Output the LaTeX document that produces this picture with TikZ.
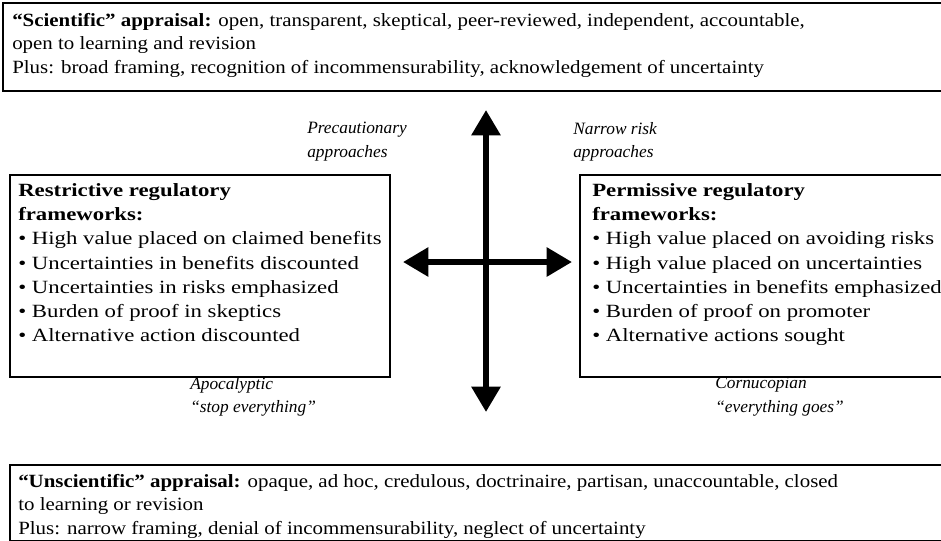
\documentclass[tikz,border=0pt]{standalone}
\usepackage{fontspec}
\setmainfont{Liberation Serif}
\newfontfamily\widefont[FakeStretch=1.12]{Liberation Serif}
\newfontfamily\listfont[FakeStretch=1.22]{Liberation Serif}
\usetikzlibrary{arrows.meta}

\tikzset{
  frame/.style={line width=2.2pt},
  widetext/.style={anchor=north west, align=left, inner sep=0pt,
    font=\widefont\fontsize{14}{17.6}\selectfont},
  listtext/.style={anchor=north west, align=left, inner sep=0pt,
    font=\listfont\fontsize{14}{18.2}\selectfont},
  cornerlabel/.style={anchor=north west, align=left, inner sep=0pt,
    font=\fontsize{13}{17.5}\selectfont\itshape},
  axis/.style={line width=4.4pt,
    {Triangle[length=19pt,width=21pt]}-{Triangle[length=19pt,width=21pt]}}
}

\begin{document}
\begin{tikzpicture}[x=0.75pt,y=-0.75pt]
\useasboundingbox (0,0) rectangle (941,540);

% appraisal boxes (top and bottom)
\draw[frame] (3,3) rectangle (970,91);
\node (sci) [widetext] at (12,13)
  {\textbf{“Scientific” appraisal:} open, transparent, skeptical, peer-reviewed, independent, accountable,\\
   open to learning and revision\\
   Plus: broad framing, recognition of incommensurability, acknowledgement of uncertainty};

\draw[frame] (10,465) rectangle (970,541);
\node (unsci) [widetext] at (18,474)
  {\textbf{“Unscientific” appraisal:} opaque, ad hoc, credulous, doctrinaire, partisan, unaccountable, closed\\
   to learning or revision\\
   Plus: narrow framing, denial of incommensurability, neglect of uncertainty};

% regulatory frameworks
\draw[frame] (10,175) rectangle (390,377);
\node (restrict) [listtext] at (18,183)
  {\textbf{Restrictive regulatory}\\
   \textbf{frameworks:}\\
   • High value placed on claimed benefits\\
   • Uncertainties in benefits discounted\\
   • Uncertainties in risks emphasized\\
   • Burden of proof in skeptics\\
   • Alternative action discounted};

\draw[frame] (580,175) rectangle (970,377);
\node (permit) [listtext] at (592,183)
  {\textbf{Permissive regulatory}\\
   \textbf{frameworks:}\\
   • High value placed on avoiding risks\\
   • High value placed on uncertainties\\
   • Uncertainties in benefits emphasized\\
   • Burden of proof on promoter\\
   • Alternative actions sought};

% corner labels
\node (precaution) [cornerlabel] at (307,122) {Precautionary\\approaches};
\node (narrow) [cornerlabel] at (573,122) {Narrow risk\\approaches};
\node (apocalypse) [cornerlabel] at (190,377) {Apocalyptic\\“stop everything”};
\node (cornucopia) [cornerlabel] at (715,377) {Cornucopian\\“everything goes”};

% axes
\coordinate (up) at (486,110);
\coordinate (down) at (486,412);
\coordinate (west) at (403,262);
\coordinate (east) at (572,262);
\draw[axis] (down) -- (up);
\draw[axis] (west) -- (east);
\end{tikzpicture}
\end{document}
